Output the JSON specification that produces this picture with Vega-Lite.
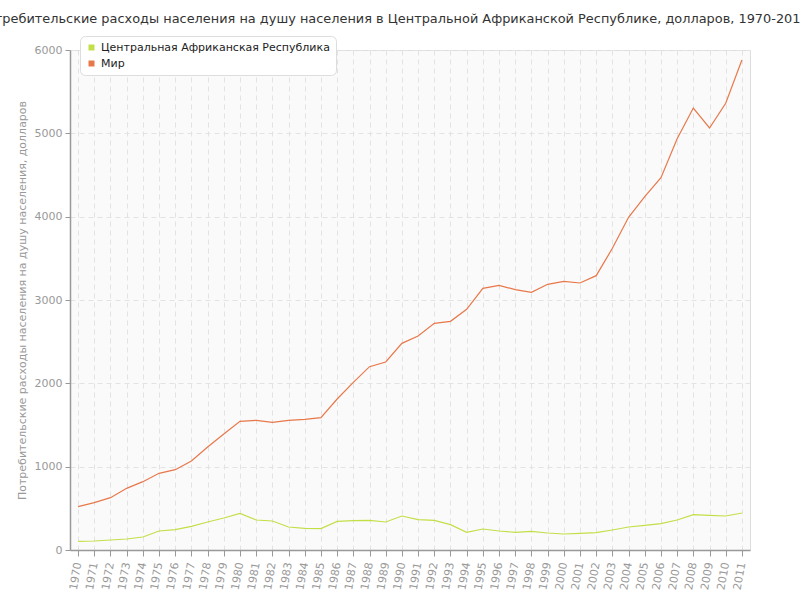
{
  "$schema": "https://vega.github.io/schema/vega-lite/v6.json",
  "width": 680,
  "height": 500,
  "autosize": {"type": "none"},
  "padding": {"left": 70, "top": 50, "right": 50, "bottom": 50},
  "background": "white",
  "title": {
    "text": "Потребительские расходы населения на душу населения в Центральной Африканской Республике, долларов, 1970-2011",
    "font": "DejaVu Sans",
    "fontSize": 12.9,
    "fontWeight": "normal",
    "color": "#333333",
    "anchor": "middle",
    "dx": -17,
    "offset": 10
  },
  "config": {
    "view": {"fill": "#fafafa", "stroke": "#dddddd", "strokeWidth": 1},
    "font": "DejaVu Sans"
  },
  "data": {
    "values": [
      {"year": "1970", "country": "Центральная Африканская Республика", "value": 104},
      {"year": "1971", "country": "Центральная Африканская Республика", "value": 108},
      {"year": "1972", "country": "Центральная Африканская Республика", "value": 120},
      {"year": "1973", "country": "Центральная Африканская Республика", "value": 132},
      {"year": "1974", "country": "Центральная Африканская Республика", "value": 156},
      {"year": "1975", "country": "Центральная Африканская Республика", "value": 228},
      {"year": "1976", "country": "Центральная Африканская Республика", "value": 244},
      {"year": "1977", "country": "Центральная Африканская Республика", "value": 284},
      {"year": "1978", "country": "Центральная Африканская Республика", "value": 336},
      {"year": "1979", "country": "Центральная Африканская Республика", "value": 384},
      {"year": "1980", "country": "Центральная Африканская Республика", "value": 440},
      {"year": "1981", "country": "Центральная Африканская Республика", "value": 360},
      {"year": "1982", "country": "Центральная Африканская Республика", "value": 348},
      {"year": "1983", "country": "Центральная Африканская Республика", "value": 276},
      {"year": "1984", "country": "Центральная Африканская Республика", "value": 260},
      {"year": "1985", "country": "Центральная Африканская Республика", "value": 256},
      {"year": "1986", "country": "Центральная Африканская Республика", "value": 344},
      {"year": "1987", "country": "Центральная Африканская Республика", "value": 352},
      {"year": "1988", "country": "Центральная Африканская Республика", "value": 356},
      {"year": "1989", "country": "Центральная Африканская Республика", "value": 336},
      {"year": "1990", "country": "Центральная Африканская Республика", "value": 408},
      {"year": "1991", "country": "Центральная Африканская Республика", "value": 364},
      {"year": "1992", "country": "Центральная Африканская Республика", "value": 356},
      {"year": "1993", "country": "Центральная Африканская Республика", "value": 304},
      {"year": "1994", "country": "Центральная Африканская Республика", "value": 212},
      {"year": "1995", "country": "Центральная Африканская Республика", "value": 252},
      {"year": "1996", "country": "Центральная Африканская Республика", "value": 228},
      {"year": "1997", "country": "Центральная Африканская Республика", "value": 212},
      {"year": "1998", "country": "Центральная Африканская Республика", "value": 224},
      {"year": "1999", "country": "Центральная Африканская Республика", "value": 204},
      {"year": "2000", "country": "Центральная Африканская Республика", "value": 192},
      {"year": "2001", "country": "Центральная Африканская Республика", "value": 200},
      {"year": "2002", "country": "Центральная Африканская Республика", "value": 208},
      {"year": "2003", "country": "Центральная Африканская Республика", "value": 240},
      {"year": "2004", "country": "Центральная Африканская Республика", "value": 276},
      {"year": "2005", "country": "Центральная Африканская Республика", "value": 296},
      {"year": "2006", "country": "Центральная Африканская Республика", "value": 316},
      {"year": "2007", "country": "Центральная Африканская Республика", "value": 360},
      {"year": "2008", "country": "Центральная Африканская Республика", "value": 424},
      {"year": "2009", "country": "Центральная Африканская Республика", "value": 416},
      {"year": "2010", "country": "Центральная Африканская Республика", "value": 408},
      {"year": "2011", "country": "Центральная Африканская Республика", "value": 444},
      {"year": "1970", "country": "Мир", "value": 520},
      {"year": "1971", "country": "Мир", "value": 568},
      {"year": "1972", "country": "Мир", "value": 628},
      {"year": "1973", "country": "Мир", "value": 740},
      {"year": "1974", "country": "Мир", "value": 820},
      {"year": "1975", "country": "Мир", "value": 920},
      {"year": "1976", "country": "Мир", "value": 964},
      {"year": "1977", "country": "Мир", "value": 1068},
      {"year": "1978", "country": "Мир", "value": 1236},
      {"year": "1979", "country": "Мир", "value": 1392},
      {"year": "1980", "country": "Мир", "value": 1544},
      {"year": "1981", "country": "Мир", "value": 1556},
      {"year": "1982", "country": "Мир", "value": 1532},
      {"year": "1983", "country": "Мир", "value": 1556},
      {"year": "1984", "country": "Мир", "value": 1568},
      {"year": "1985", "country": "Мир", "value": 1588},
      {"year": "1986", "country": "Мир", "value": 1812},
      {"year": "1987", "country": "Мир", "value": 2012},
      {"year": "1988", "country": "Мир", "value": 2200},
      {"year": "1989", "country": "Мир", "value": 2256},
      {"year": "1990", "country": "Мир", "value": 2480},
      {"year": "1991", "country": "Мир", "value": 2568},
      {"year": "1992", "country": "Мир", "value": 2720},
      {"year": "1993", "country": "Мир", "value": 2744},
      {"year": "1994", "country": "Мир", "value": 2888},
      {"year": "1995", "country": "Мир", "value": 3140},
      {"year": "1996", "country": "Мир", "value": 3176},
      {"year": "1997", "country": "Мир", "value": 3124},
      {"year": "1998", "country": "Мир", "value": 3092},
      {"year": "1999", "country": "Мир", "value": 3188},
      {"year": "2000", "country": "Мир", "value": 3224},
      {"year": "2001", "country": "Мир", "value": 3204},
      {"year": "2002", "country": "Мир", "value": 3292},
      {"year": "2003", "country": "Мир", "value": 3620},
      {"year": "2004", "country": "Мир", "value": 3992},
      {"year": "2005", "country": "Мир", "value": 4240},
      {"year": "2006", "country": "Мир", "value": 4468},
      {"year": "2007", "country": "Мир", "value": 4936},
      {"year": "2008", "country": "Мир", "value": 5304},
      {"year": "2009", "country": "Мир", "value": 5064},
      {"year": "2010", "country": "Мир", "value": 5360},
      {"year": "2011", "country": "Мир", "value": 5880}
    ]
  },
  "mark": {"type": "line", "strokeWidth": 1.2, "interpolate": "linear"},
  "encoding": {
    "x": {
      "field": "year",
      "type": "ordinal",
      "scale": {"type": "point", "padding": 0.5},
      "axis": {
        "title": null,
        "labelAngle": -80,
        "labelAlign": "right",
        "labelBaseline": "middle",
        "labelFontSize": 11,
        "labelColor": "#999999",
        "labelPadding": 6,
        "domainColor": "#999999",
        "domainWidth": 1.5,
        "tickColor": "#999999",
        "tickSize": 6,
        "grid": true,
        "gridColor": "#e3e3e3",
        "gridDash": [5, 4],
        "gridWidth": 1
      }
    },
    "y": {
      "field": "value",
      "type": "quantitative",
      "scale": {"domain": [0, 6000], "nice": false},
      "axis": {
        "title": "Потребительские расходы населения на душу населения, долларов",
        "titleFontSize": 11,
        "titleFontWeight": "normal",
        "titleColor": "#999999",
        "titlePadding": 7,
        "format": "d",
        "values": [0, 1000, 2000, 3000, 4000, 5000, 6000],
        "labelFontSize": 11,
        "labelColor": "#999999",
        "labelPadding": 3,
        "domainColor": "#999999",
        "domainWidth": 1.5,
        "tickColor": "#999999",
        "tickSize": 5,
        "grid": true,
        "gridColor": "#e3e3e3",
        "gridDash": [5, 4],
        "gridWidth": 1
      }
    },
    "color": {
      "field": "country",
      "type": "nominal",
      "scale": {
        "domain": ["Центральная Африканская Республика", "Мир"],
        "range": ["#c3df48", "#e8784a"]
      },
      "legend": {
        "title": null,
        "orient": "none",
        "legendX": 10,
        "legendY": -14,
        "symbolType": "square",
        "symbolSize": 36,
        "symbolStrokeWidth": 0,
        "labelFontSize": 11,
        "labelColor": "#222222",
        "labelLimit": 0,
        "rowPadding": 4,
        "fillColor": "white",
        "strokeColor": "#dddddd",
        "cornerRadius": 5,
        "padding": 6,
        "encode": {
          "symbols": {
            "update": {
              "fill": {"scale": "color", "field": "value"},
              "fillOpacity": {"value": 1}
            }
          }
        }
      }
    }
  }
}
